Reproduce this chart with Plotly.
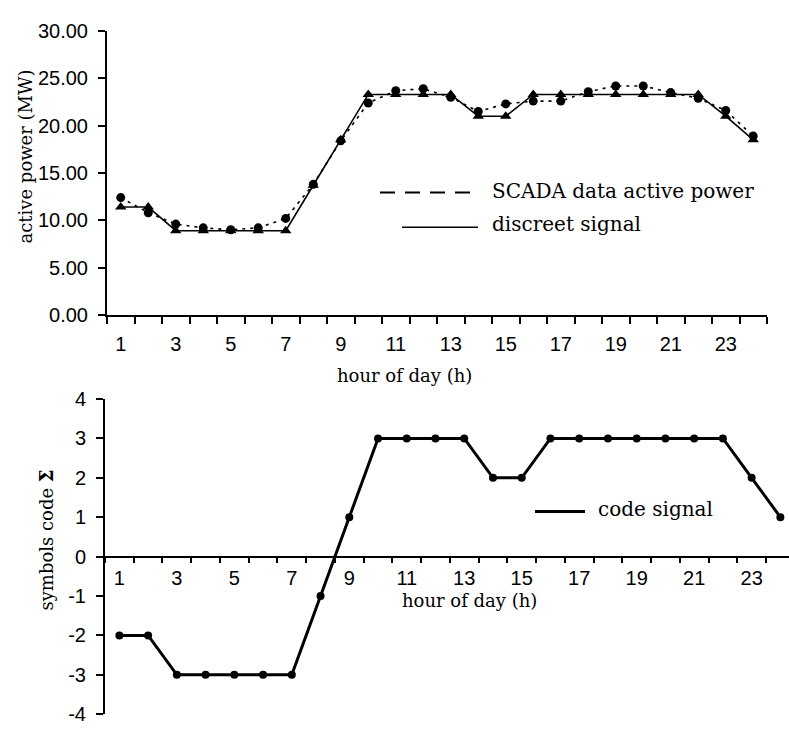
import plotly.graph_objects as go

# Hour of day (categories 1..24)
hours = list(range(1, 25))

# Active power measured by SCADA (MW)
scada_power = [12.4, 10.8, 9.6, 9.2, 9.0, 9.2, 10.2, 13.8, 18.4, 22.4, 23.7, 23.9,
               23.0, 21.5, 22.3, 22.6, 22.6, 23.6, 24.2, 24.2, 23.5, 22.9, 21.6, 18.9]

# Quantised (discreet) signal levels (MW)
discreet_power = [11.4, 11.4, 8.9, 8.9, 8.9, 8.9, 8.9, 13.7, 18.5, 23.3, 23.3, 23.3,
                  23.3, 21.0, 21.0, 23.3, 23.3, 23.3, 23.3, 23.3, 23.3, 23.3, 21.0, 18.5]

# Symbol code of the discreet signal
code_signal = [-2, -2, -3, -3, -3, -3, -3, -1, 1, 3, 3, 3,
               3, 2, 2, 3, 3, 3, 3, 3, 3, 3, 2, 1]

# Tick labels
hour_labels = [str(h) for h in range(1, 24, 2)]
power_ticks = [0, 5, 10, 15, 20, 25, 30]
code_ticks = list(range(-4, 5))

W, H = 789, 732


def fx(px):
    return px / W


def fy(py):
    return 1 - py / H


SERIF = "DejaVu Serif"
SANS = "Liberation Sans"

fig = go.Figure()

fig.add_trace(go.Scatter(
    x=hours, y=discreet_power, mode="lines+markers",
    line=dict(color="black", width=1.6),
    marker=dict(symbol="triangle-up", size=10, color="black"),
    xaxis="x", yaxis="y", showlegend=False))

fig.add_trace(go.Scatter(
    x=hours, y=scada_power, mode="lines+markers",
    line=dict(color="black", width=1.6, dash="3px,5px"),
    marker=dict(symbol="circle", size=9, color="black"),
    xaxis="x", yaxis="y", showlegend=False))

fig.add_trace(go.Scatter(
    x=hours, y=code_signal, mode="lines+markers",
    line=dict(color="black", width=3),
    marker=dict(symbol="circle", size=8, color="black"),
    xaxis="x2", yaxis="y2", showlegend=False))

tick_font = dict(family=SANS, size=20, color="black")

# Upper panel axes
fig.update_layout(
    xaxis=dict(
        domain=[fx(107), fx(767)], range=[0.5, 24.5], anchor="y",
        tickmode="array", tickvals=list(range(1, 24, 2)), ticktext=hour_labels,
        ticks="", showgrid=False, zeroline=False,
        showline=True, linecolor="black", linewidth=2,
        tickfont=tick_font, ticklabelstandoff=10,
        minor=dict(tick0=0.5, dtick=1, ticks="outside", ticklen=7,
                   tickwidth=2, tickcolor="black", showgrid=False),
    ),
    yaxis=dict(
        domain=[fy(313.3), fy(20.7)], range=[0, 30], anchor="x",
        tickmode="array", tickvals=power_ticks,
        ticktext=[f"{v:.2f}" for v in power_ticks],
        ticks="outside", ticklen=7, tickwidth=2, tickcolor="black",
        showgrid=False, zeroline=False,
        showline=True, linecolor="black", linewidth=2,
        tickfont=tick_font, ticklabelstandoff=6,
    ),
    # Lower panel axes (x axis crosses at code 0)
    xaxis2=dict(
        domain=[fx(105), 1.0], range=[0.5, 24.3], anchor="free",
        position=(fy(725) + fy(400)) / 2,
        tickmode="array", tickvals=list(range(1, 24, 2)), ticktext=hour_labels,
        ticks="", showgrid=False, zeroline=False,
        showline=True, linecolor="black", linewidth=1.5,
        tickfont=tick_font, ticklabelstandoff=4,
        minor=dict(tick0=0.5, dtick=1, ticks="outside", ticklen=6,
                   tickwidth=2, tickcolor="black", showgrid=False),
    ),
    yaxis2=dict(
        domain=[fy(725), fy(400)], range=[-4, 4], anchor="x2",
        tickmode="array", tickvals=code_ticks,
        ticktext=[str(v) for v in code_ticks],
        ticks="outside", ticklen=7, tickwidth=2, tickcolor="black",
        showgrid=False, zeroline=False,
        showline=True, linecolor="black", linewidth=2,
        tickfont=tick_font, ticklabelstandoff=6,
    ),
)

title_font = dict(family=SERIF, size=18, color="black")
legend_font = dict(family=SERIF, size=20, color="black")

annotations = [
    dict(text="active power (MW)", x=fx(25), y=fy(150), textangle=-90,
         font=title_font),
    dict(text="hour of day (h)", x=fx(405), y=fy(376), font=title_font),
    dict(text="symbols code <b>Σ</b>", x=fx(47), y=fy(546), textangle=-90,
         font=title_font),
    dict(text="hour of day (h)", x=fx(470), y=fy(608), font=title_font),
    dict(text="SCADA data active power", x=fx(490), y=fy(186), xanchor="left",
         font=legend_font),
    dict(text="discreet signal", x=fx(490), y=fy(220), xanchor="left",
         font=legend_font),
    dict(text="code signal", x=fx(596), y=fy(513), xanchor="left",
         font=legend_font),
]
for a in annotations:
    a.setdefault("xanchor", "center")
    a.update(xref="paper", yref="paper", yanchor="middle", showarrow=False)

shapes = [
    dict(type="line", x0=fx(380), x1=fx(476), y0=fy(187), y1=fy(187),
         line=dict(color="black", width=2, dash="15px,10px")),
    dict(type="line", x0=fx(402), x1=fx(478), y0=fy(223), y1=fy(223),
         line=dict(color="black", width=1.5)),
    dict(type="line", x0=fx(535), x1=fx(585), y0=fy(516), y1=fy(516),
         line=dict(color="black", width=3)),
]
for s in shapes:
    s.update(xref="paper", yref="paper")

fig.update_layout(
    width=W, height=H, margin=dict(l=0, r=0, t=0, b=0),
    paper_bgcolor="white", plot_bgcolor="white",
    annotations=annotations, shapes=shapes,
)

fig.write_html("out.html")
